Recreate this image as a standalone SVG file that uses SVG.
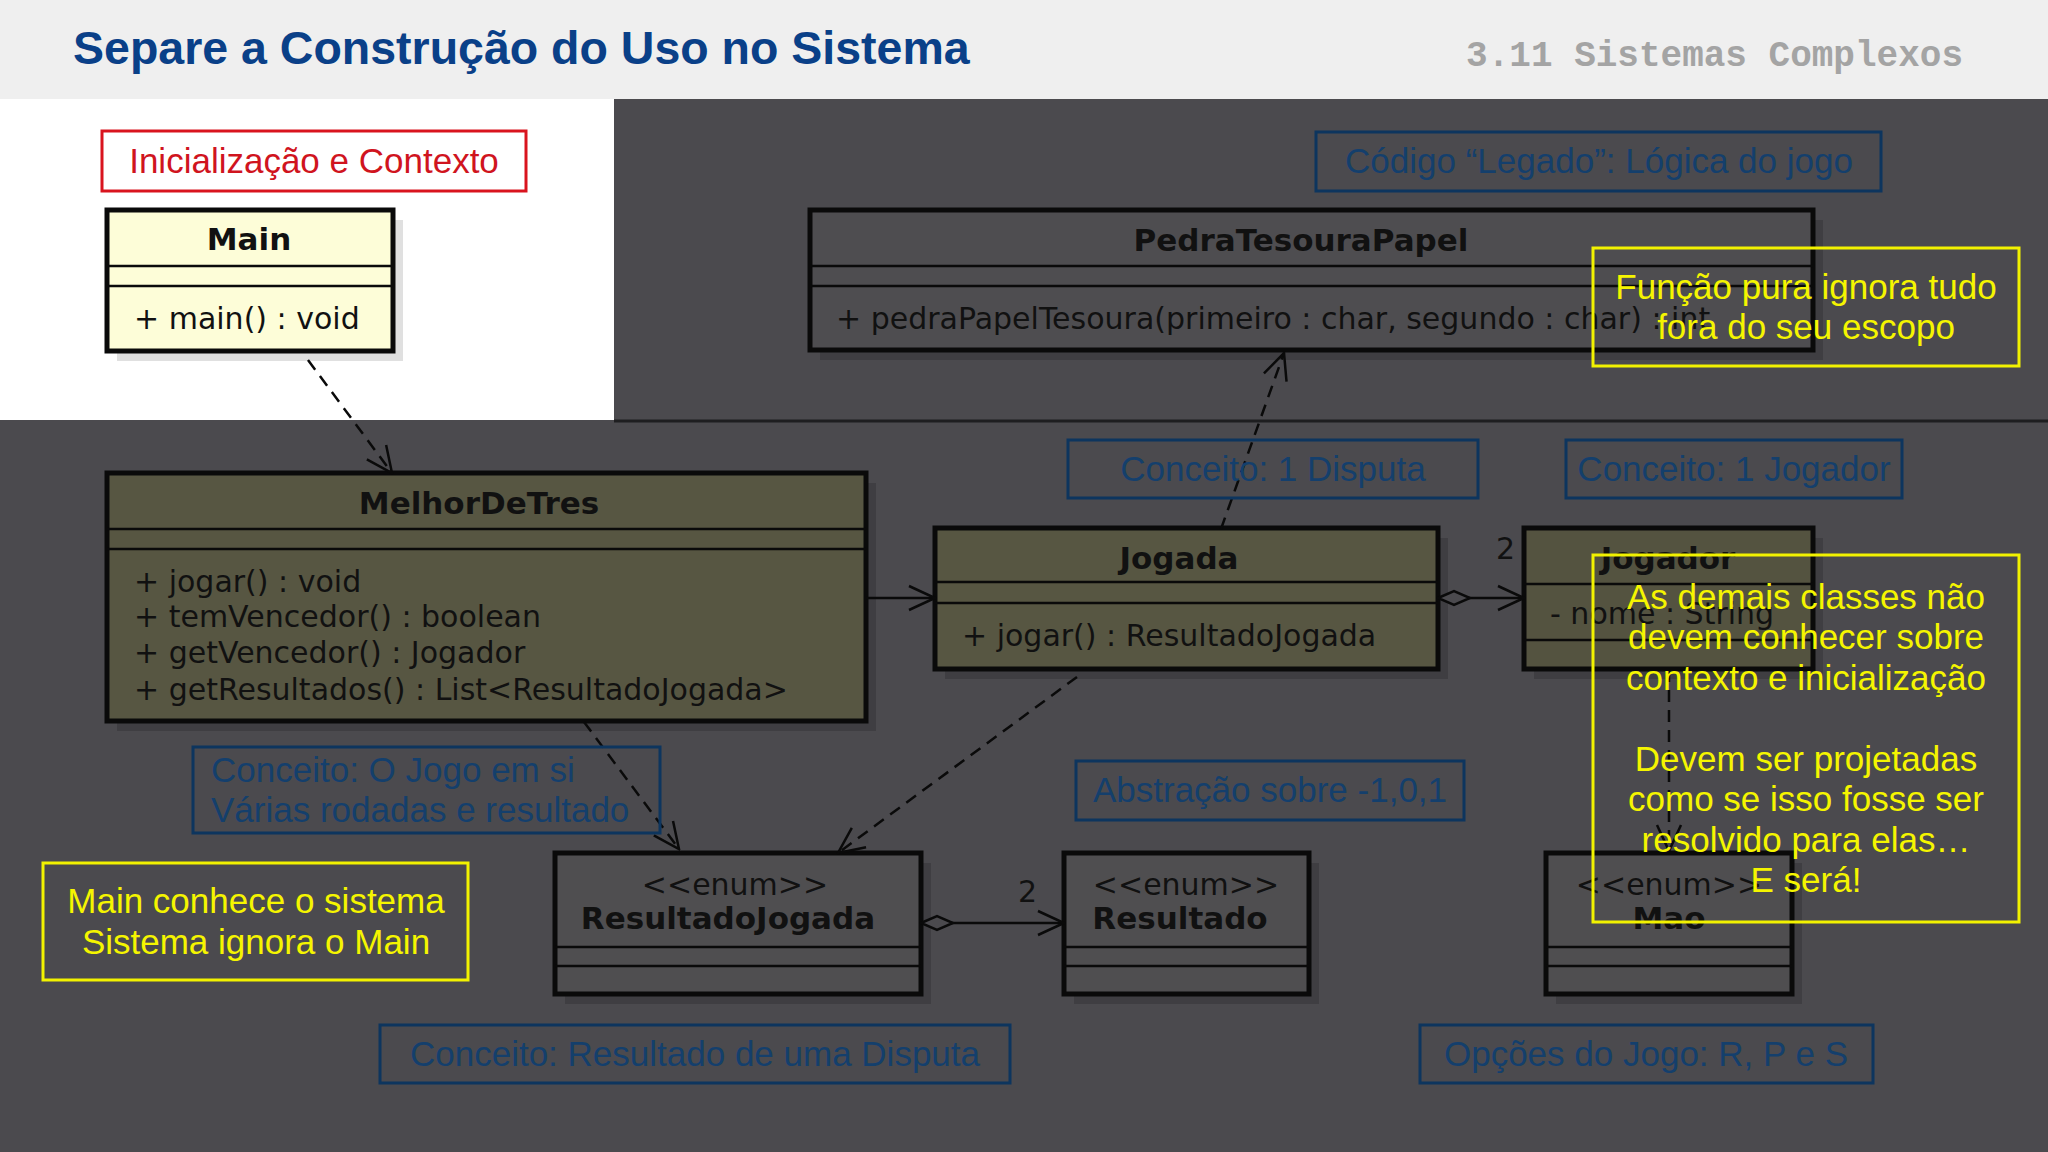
<svg xmlns="http://www.w3.org/2000/svg" width="2048" height="1152" viewBox="0 0 2048 1152">
<style>
.cls{stroke:#0a0a0a;stroke-width:5}
.ln{stroke:#0a0a0a;stroke-width:2.5}
.sh{fill:#3f3e42}
.ti{font-family:"DejaVu Sans",sans-serif;font-weight:bold;font-size:31px;fill:#111;text-anchor:middle}
.me{font-family:"DejaVu Sans",sans-serif;font-size:30px;fill:#111}
.mc{font-family:"DejaVu Sans",sans-serif;font-size:30px;fill:#111;text-anchor:middle}
.bl{fill:none;stroke:#0d355e;stroke-width:3}
.bt{font-family:"Liberation Sans",Arial,sans-serif;font-size:35px;fill:#143f6c;text-anchor:middle}
.btl{font-family:"Liberation Sans",Arial,sans-serif;font-size:35px;fill:#143f6c}
.yl{fill:none;stroke:#f2f200;stroke-width:3}
.yt{font-family:"Liberation Sans",Arial,sans-serif;font-size:35px;fill:#f5f500;text-anchor:middle}
.dash{fill:none;stroke:#0a0a0a;stroke-width:2.5;stroke-dasharray:12 8}
.sol{fill:none;stroke:#0a0a0a;stroke-width:2.5}
</style>
<defs>
<marker id="oa" markerWidth="30" markerHeight="30" refX="28" refY="15" orient="auto" markerUnits="userSpaceOnUse">
<path d="M2,3 L28,15 L2,27" fill="none" stroke="#0a0a0a" stroke-width="2.5"/>
</marker>
<marker id="dm" markerWidth="40" markerHeight="20" refX="2" refY="10" orient="auto" markerUnits="userSpaceOnUse">
<path d="M2,10 L18,3 L34,10 L18,17 Z" fill="#4b4a4e" stroke="#0a0a0a" stroke-width="2.5"/>
</marker>
</defs>
<rect width="2048" height="1152" fill="#4b4a4e"/>
<rect width="2048" height="99" fill="#efefef"/>
<rect x="0" y="99" width="614" height="321" fill="#ffffff"/>
<line x1="614" y1="421" x2="2048" y2="421" stroke="#1e1e20" stroke-width="3"/>
<text x="73" y="64" font-family="Liberation Sans,Arial,sans-serif" font-weight="bold" font-size="46.5" fill="#0a4088">Separe a Construção do Uso no Sistema</text>
<text x="1963" y="66" font-family="Liberation Mono,Courier New,monospace" font-weight="bold" font-size="36" fill="#a4a4a4" text-anchor="end">3.11 Sistemas Complexos</text>

<g id="lbl-init"><rect x="102" y="131" width="424" height="60" fill="#fff" stroke="#d9141e" stroke-width="3"/><text x="314" y="173" font-family="Liberation Sans,Arial,sans-serif" font-size="35" fill="#d0141e" text-anchor="middle">Inicialização e Contexto</text></g>

<g id="Main">
<rect x="117" y="220" width="286" height="141" fill="#e0e0e0"/>
<rect x="107" y="210" width="286" height="141" fill="#fdfdd8" class="cls"/>
<line x1="107" y1="266" x2="393" y2="266" class="ln"/><line x1="107" y1="286" x2="393" y2="286" class="ln"/>
<text x="249" y="250" class="ti">Main</text>
<text x="134" y="329" class="me">+ main() : void</text>
</g>

<g id="PedraTesouraPapel">
<rect x="820" y="220" width="1003" height="140" class="sh"/>
<rect x="810" y="210" width="1003" height="140" fill="#4e4d50" class="cls"/>
<line x1="810" y1="266" x2="1813" y2="266" class="ln"/><line x1="810" y1="286" x2="1813" y2="286" class="ln"/>
<text x="1301" y="251" class="ti">PedraTesouraPapel</text>
<text x="836" y="329" class="me">+ pedraPapelTesoura(primeiro : char, segundo : char) : int</text>
</g>

<g id="MelhorDeTres">
<rect x="117" y="483" width="759" height="248" class="sh"/>
<rect x="107" y="473" width="759" height="248" fill="#575642" class="cls"/>
<line x1="107" y1="529" x2="866" y2="529" class="ln"/><line x1="107" y1="549" x2="866" y2="549" class="ln"/>
<text x="479" y="514" class="ti">MelhorDeTres</text>
<text x="134" y="592" class="me">+ jogar() : void</text>
<text x="134" y="627" class="me">+ temVencedor() : boolean</text>
<text x="134" y="663" class="me">+ getVencedor() : Jogador</text>
<text x="134" y="700" class="me">+ getResultados() : List&lt;ResultadoJogada&gt;</text>
</g>

<g id="Jogada">
<rect x="945" y="538" width="503" height="141" class="sh"/>
<rect x="935" y="528" width="503" height="141" fill="#575642" class="cls"/>
<line x1="935" y1="582" x2="1438" y2="582" class="ln"/><line x1="935" y1="603" x2="1438" y2="603" class="ln"/>
<text x="1179" y="569" class="ti">Jogada</text>
<text x="962" y="646" class="me">+ jogar() : ResultadoJogada</text>
</g>

<g id="Jogador">
<rect x="1534" y="538" width="289" height="141" class="sh"/>
<rect x="1524" y="528" width="289" height="141" fill="#545340" class="cls"/>
<line x1="1524" y1="584" x2="1813" y2="584" class="ln"/><line x1="1524" y1="640" x2="1813" y2="640" class="ln"/>
<text x="1668" y="569" class="ti">Jogador</text>
<text x="1550" y="624" class="me">- nome : String</text>
</g>

<g id="ResultadoJogada">
<rect x="565" y="863" width="366" height="141" class="sh"/>
<rect x="555" y="853" width="366" height="141" fill="#4f4e50" class="cls"/>
<line x1="555" y1="947" x2="921" y2="947" class="ln"/><line x1="555" y1="966" x2="921" y2="966" class="ln"/>
<text x="735" y="895" class="mc">&lt;&lt;enum&gt;&gt;</text>
<text x="728" y="929" class="ti">ResultadoJogada</text>
</g>

<g id="Resultado">
<rect x="1074" y="863" width="245" height="141" class="sh"/>
<rect x="1064" y="853" width="245" height="141" fill="#4f4e50" class="cls"/>
<line x1="1064" y1="947" x2="1309" y2="947" class="ln"/><line x1="1064" y1="966" x2="1309" y2="966" class="ln"/>
<text x="1186" y="895" class="mc">&lt;&lt;enum&gt;&gt;</text>
<text x="1180" y="929" class="ti">Resultado</text>
</g>

<g id="Mao">
<rect x="1556" y="863" width="246" height="141" class="sh"/>
<rect x="1546" y="853" width="246" height="141" fill="#4f4e50" class="cls"/>
<line x1="1546" y1="947" x2="1792" y2="947" class="ln"/><line x1="1546" y1="966" x2="1792" y2="966" class="ln"/>
<text x="1669" y="895" class="mc">&lt;&lt;enum&gt;&gt;</text>
<text x="1669" y="929" class="ti">Mao</text>
</g>

<g id="connectors">
<path d="M308,360 L392,473" class="dash" marker-end="url(#oa)"/>
<path d="M866,598 L935,598" class="sol" marker-end="url(#oa)"/>
<path d="M1438,598 L1524,598" class="sol" marker-start="url(#dm)" marker-end="url(#oa)"/>
<text x="1496" y="559" class="me">2</text>
<path d="M1221,529 L1284,353" class="dash" marker-end="url(#oa)"/>
<path d="M584,722 L679,849" class="dash" marker-end="url(#oa)"/>
<path d="M1077,677 L838,853" class="dash" marker-end="url(#oa)"/>
<path d="M1669,670 L1669,851" class="dash" marker-end="url(#oa)"/>
<path d="M921,923 L1064,923" class="sol" marker-start="url(#dm)" marker-end="url(#oa)"/>
<text x="1018" y="902" class="me">2</text>
</g>

<g id="lbl-legado"><rect x="1316" y="132" width="565" height="59" class="bl"/><text x="1599" y="173" class="bt">Código “Legado”: Lógica do jogo</text></g>
<g id="lbl-disputa"><rect x="1068" y="440" width="410" height="58" class="bl"/><text x="1273" y="481" class="bt">Conceito: 1 Disputa</text></g>
<g id="lbl-jogador"><rect x="1566" y="440" width="336" height="58" class="bl"/><text x="1734" y="481" class="bt">Conceito: 1 Jogador</text></g>
<g id="lbl-jogo"><rect x="193" y="747" width="467" height="86" class="bl"/><text x="211" y="782" class="btl">Conceito: O Jogo em si</text><text x="211" y="822" class="btl">Várias rodadas e resultado</text></g>
<g id="lbl-abs"><rect x="1076" y="761" width="388" height="59" class="bl"/><text x="1270" y="802" class="bt">Abstração sobre -1,0,1</text></g>
<g id="lbl-res"><rect x="380" y="1025" width="630" height="58" class="bl"/><text x="695" y="1066" class="bt">Conceito: Resultado de uma Disputa</text></g>
<g id="lbl-opc"><rect x="1420" y="1025" width="453" height="58" class="bl"/><text x="1646" y="1066" class="bt">Opções do Jogo: R, P e S</text></g>

<g id="note-funcao"><rect x="1593" y="248" width="426" height="118" class="yl"/><text x="1806" y="299" class="yt">Função pura ignora tudo</text><text x="1806" y="339" class="yt">fora do seu escopo</text></g>
<g id="note-main"><rect x="43" y="863" width="425" height="117" class="yl"/><text x="256" y="913" class="yt">Main conhece o sistema</text><text x="256" y="954" class="yt">Sistema ignora o Main</text></g>
<g id="note-demais"><rect x="1593" y="555" width="426" height="367" class="yl"/>
<text x="1806" y="609" class="yt">As demais classes não</text>
<text x="1806" y="649" class="yt">devem conhecer sobre</text>
<text x="1806" y="690" class="yt">contexto e inicialização</text>
<text x="1806" y="771" class="yt">Devem ser projetadas</text>
<text x="1806" y="811" class="yt">como se isso fosse ser</text>
<text x="1806" y="852" class="yt">resolvido para elas…</text>
<text x="1806" y="892" class="yt">E será!</text>
</g>
</svg>
